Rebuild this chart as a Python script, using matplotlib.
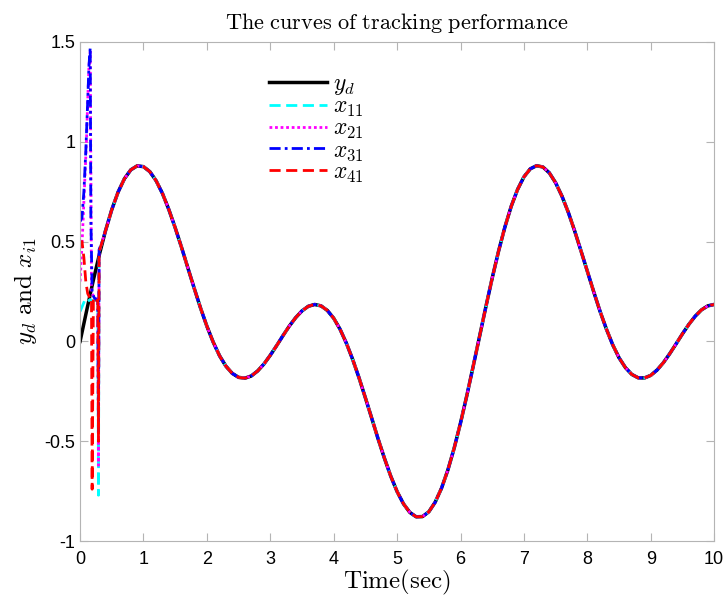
import numpy as np
import matplotlib
matplotlib.use("Agg")
import matplotlib.pyplot as plt

plt.rcParams["mathtext.fontset"] = "cm"
plt.rcParams["font.family"] = "Liberation Sans"

# reference trajectory y_d, read every 0.1 s
t = np.round(np.linspace(0, 10, 101), 1)
yd = [0.000, 0.149, 0.294, 0.430, 0.553, 0.660, 0.748, 0.815, 0.859, 0.879,
      0.875, 0.850, 0.804, 0.740, 0.660, 0.569, 0.471, 0.368, 0.266, 0.167,
      0.076, -0.004, -0.072, -0.124, -0.160, -0.180, -0.184, -0.173, -0.148, -0.113,
      -0.069, -0.021, 0.029, 0.077, 0.119, 0.153, 0.176, 0.185, 0.178, 0.155,
      0.116, 0.061, -0.009, -0.091, -0.183, -0.283, -0.385, -0.488, -0.585, -0.675,
      -0.752, -0.813, -0.856, -0.878, -0.877, -0.853, -0.805, -0.735, -0.644, -0.534,
      -0.408, -0.270, -0.124, 0.025, 0.174, 0.318, 0.452, 0.573, 0.677, 0.761,
      0.824, 0.864, 0.880, 0.873, 0.844, 0.794, 0.727, 0.646, 0.553, 0.453,
      0.351, 0.249, 0.151, 0.062, -0.017, -0.082, -0.131, -0.165, -0.182, -0.183,
      -0.170, -0.143, -0.106, -0.061, -0.012, 0.038, 0.085, 0.126, 0.158, 0.178,
      0.185]

# start-up transients of the four agents (before they lock onto y_d)
t11 = [0.0, 0.04, 0.08, 0.12, 0.16, 0.20, 0.24, 0.28, 0.29, 0.30, 0.35]
v11 = [0.15, 0.18, 0.21, 0.20, 0.21, 0.20, 0.21, 0.20, -0.77, 0.45, 0.50]

t21 = [0.0, 0.02, 0.04, 0.06, 0.08, 0.10, 0.12, 0.14, 0.16, 0.18, 0.22, 0.28, 0.29, 0.30, 0.35]
v21 = [0.30, 0.42, 0.55, 0.70, 0.85, 1.00, 1.20, 1.38, 1.45, 0.25, 0.22, 0.21, -0.62, 0.45, 0.50]

t31 = [0.0, 0.03, 0.06, 0.09, 0.12, 0.14, 0.16, 0.17, 0.19, 0.22, 0.28, 0.29, 0.30, 0.35]
v31 = [0.60, 0.62, 0.75, 0.95, 1.20, 1.38, 1.47, 0.62, 0.25, 0.22, 0.20, -0.45, 0.46, 0.50]

t41 = [0.0, 0.03, 0.06, 0.09, 0.12, 0.15, 0.18, 0.19, 0.21, 0.24, 0.28, 0.29, 0.30, 0.35]
v41 = [0.48, 0.50, 0.42, 0.30, 0.24, 0.22, 0.22, -0.74, 0.22, 0.21, 0.20, -0.50, 0.45, 0.50]

# after ~0.4 s all agents sit on top of y_d
t_trk = list(t[4:])
v_trk = yd[4:]

fig = plt.figure(figsize=(7.28, 6.06), dpi=100)
ax = fig.add_axes([0.110, 0.107, 0.871, 0.824])

ax.plot(t, yd, color="black", lw=2.5, label=r"$y_d$")
ax.plot(t11 + t_trk, v11 + v_trk, color="cyan", lw=2, ls=(0, (4, 2)), label=r"$x_{11}$")
ax.plot(t21 + t_trk, v21 + v_trk, color="magenta", lw=2, ls=(0, (1, 1)), label=r"$x_{21}$")
ax.plot(t31 + t_trk, v31 + v_trk, color="blue", lw=2, ls=(0, (4, 1.5, 1, 1.5)), label=r"$x_{31}$")
ax.plot(t41 + t_trk, v41 + v_trk, color="red", lw=2, ls=(0, (4, 2)), label=r"$x_{41}$")

ax.set_xlim(0, 10)
ax.set_ylim(-1, 1.5)
ax.set_xticks(range(0, 11))
ax.set_yticks([-1, -0.5, 0, 0.5, 1, 1.5])
ax.set_yticklabels(["-1", "-0.5", "0", "0.5", "1", "1.5"])

gray = "#b4b4b4"
for s in ax.spines.values():
    s.set_color(gray)
ax.tick_params(direction="in", top=True, right=True, color=gray, length=6,
               labelsize=13, labelcolor="black")
ax.tick_params(axis="x", pad=7)

ax.set_title(r"$\mathrm{The\ curves\ of\ tracking\ performance}$", fontsize=16, pad=9)
ax.set_xlabel(r"$\mathrm{Time(sec)}$", fontsize=18, labelpad=0)
ax.set_ylabel(r"$y_d\ \mathrm{and}\ x_{i1}$", fontsize=18, labelpad=4)

ax.legend(loc="upper left", bbox_to_anchor=(0.298, 0.937), frameon=False,
          fontsize=17, handlelength=2.45, labelspacing=-0.05, handletextpad=0.25,
          borderpad=0, borderaxespad=0)

fig.savefig("out.png", dpi=100)
